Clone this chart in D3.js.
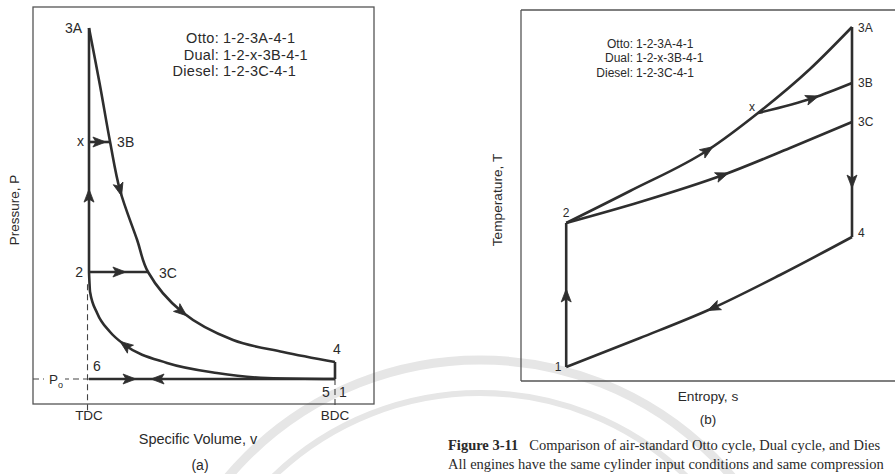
<!DOCTYPE html>
<html><head><meta charset="utf-8">
<script src="https://cdn.jsdelivr.net/npm/d3@7"></script>
<style>
body{margin:0;background:#fff}
svg{display:block}
text{font-family:"Liberation Sans",Arial,Helvetica,sans-serif;fill:#2a2a2a}
.cap{font-family:"Liberation Serif","Times New Roman",serif}
</style>
</head><body>
<svg id="c" width="895" height="474"></svg>
<script>
// ================= DATA =================
const cycleNames = ["Otto", "Dual", "Diesel"];
const cycleRoutes = ["1-2-3A-4-1", "1-2-x-3B-4-1", "1-2-3C-4-1"];

// ---- (a) P-v diagram: [specific volume v, pressure P] (TDC v=1, BDC v=8, P0 = 1) ----
const pvTicks = [{v: 1, label: "TDC"}, {v: 8, label: "BDC"}];
const pv2to3A = [[1, 5.28], [1, 15.04]];
const pvXto3B = [[1, 10.48], [1.60, 10.48]];
const pv2to3C = [[1, 5.28], [2.68, 5.28]];
const pvExpansion = [[1, 15.04], [1.31, 12.76], [1.60, 10.48], [1.88, 8.56], [2.37, 6.56],
                     [2.68, 5.28], [3.65, 3.68], [5.10, 2.56], [6.52, 2.08], [8, 1.68]];
const pv4to5 = [[8, 1.68], [8, 1]];
const pvExhaustIntake = [[1, 1], [8, 1]];
const pvCompression = [[1, 5.28], [1.03, 4.48], [1.23, 3.64], [1.60, 2.88], [2.02, 2.36],
                       [3.22, 1.64], [4.64, 1.24], [6.07, 1.04], [8, 1]];
const pvPoints = [
  {name: "3A", v: 1, P: 15.04}, {name: "x", v: 1, P: 10.48}, {name: "3B", v: 1.60, P: 10.48},
  {name: "2", v: 1, P: 5.28}, {name: "3C", v: 2.68, P: 5.28}, {name: "4", v: 8, P: 1.68},
  {name: "5", v: 8, P: 1}, {name: "1", v: 8, P: 1}, {name: "6", v: 1, P: 1}
];
const pvAmbient = 1; // P0

// ---- (b) T-s diagram: [entropy s, temperature T] ----
const ts1to2 = [[1.13, 1.4], [1.13, 15.8]];
const ts2to3A = [[1.13, 15.8], [2.725, 19.0], [4.675, 23.1], [5.925, 26.8], [7.225, 31.2], [8.275, 35.4]];
const tsXto3B = [[5.925, 26.8], [7.3, 28.3], [8.275, 29.8]];
const ts2to3C = [[1.13, 15.8], [2.975, 17.9], [5.05, 20.6], [6.725, 23.3], [8.275, 25.9]];
const ts3Ato4 = [[8.275, 35.4], [8.275, 14.4]];
const ts4to1 = [[1.13, 1.4], [2.975, 4.3], [4.8, 7.3], [6.475, 10.6], [8.275, 14.4]];
const tsPoints = [
  {name: "1", s: 1.13, T: 1.4}, {name: "2", s: 1.13, T: 15.8}, {name: "x", s: 5.925, T: 26.8},
  {name: "3A", s: 8.275, T: 35.4}, {name: "3B", s: 8.275, T: 29.8}, {name: "3C", s: 8.275, T: 25.9},
  {name: "4", s: 8.275, T: 14.4}
];

// caption as visible in the (cropped) reference
const captionLines = [
  ["Figure 3-11", "Comparison of air-standard Otto cycle, Dual cycle, and Dies"],
  ["", "All engines have the same cylinder input conditions and same compression"]
];

// ================= DRAW =================
const svg = d3.select("#c");
const INK = "#2e2e2e", FRAME = "#555";

// faint scanned watermark arcs (background)
const wm = svg.append("g").attr("fill", "none").attr("stroke", "#e6e6e6");
wm.append("circle").attr("cx", 480).attr("cy", 690).attr("r", 330).attr("stroke-width", 9);
wm.append("circle").attr("cx", 480).attr("cy", 690).attr("r", 297).attr("stroke-width", 6);

// ---------- (a) ----------
const xA = d3.scaleLinear().domain([-0.594, 9.11]).range([33, 374]);
const yA = d3.scaleLinear().domain([0, 15.88]).range([404, 7]);
const gA = svg.append("g");

gA.append("rect").attr("x", xA.range()[0]).attr("y", yA.range()[1])
  .attr("width", xA.range()[1] - xA.range()[0]).attr("height", yA.range()[0] - yA.range()[1])
  .attr("fill", "none").attr("stroke", FRAME).attr("stroke-width", 1.3);

const dashA = gA.append("g").attr("stroke", "#444").attr("stroke-width", 1.1).attr("stroke-dasharray", "6,4");
dashA.append("line").attr("x1", xA(1) - 1.5).attr("x2", xA(1) - 1.5).attr("y1", yA(-0.25)).attr("y2", yA(4.9));
dashA.append("line").attr("x1", xA(8)).attr("x2", xA(8)).attr("y1", yA(pvAmbient)).attr("y2", yA(-0.2));
dashA.append("line").attr("x1", xA.range()[0]).attr("x2", xA(1)).attr("y1", yA(pvAmbient)).attr("y2", yA(pvAmbient));
gA.append("rect").attr("x", 44).attr("y", yA(pvAmbient) - 8).attr("width", 21).attr("height", 16).attr("fill", "#fff");
const p0 = gA.append("text").attr("x", 49).attr("y", yA(pvAmbient) + 5).attr("font-size", 13.5);
p0.append("tspan").text("P");
p0.append("tspan").attr("dy", 4).attr("font-size", 9).text("o");

const lineA = d3.line().x(d => xA(d[0])).y(d => yA(d[1]));
const curveA = d3.line().x(d => xA(d[0])).y(d => yA(d[1])).curve(d3.curveCatmullRom.alpha(0.5));
const monoA = d3.line().x(d => xA(d[0])).y(d => yA(d[1])).curve(d3.curveMonotoneX);

function drawPath(g, gen, data) {
  return g.append("path").attr("d", gen(data)).attr("fill", "none")
    .attr("stroke", INK).attr("stroke-width", 2.6).attr("stroke-linejoin", "round").node();
}
const A = {
  up: drawPath(gA, lineA, pv2to3A),
  xb: drawPath(gA, lineA, pvXto3B),
  c3: drawPath(gA, lineA, pv2to3C),
  exp: drawPath(gA, curveA, pvExpansion),
  d45: drawPath(gA, lineA, pv4to5),
  ex: drawPath(gA, lineA, pvExhaustIntake),
  comp: drawPath(gA, monoA, pvCompression)
};

function arrow(g, node, target, axis, reverse) {
  const L = node.getTotalLength();
  let best = 0, bd = Infinity;
  for (let i = 0; i <= 600; i++) {
    const p = node.getPointAtLength(L * i / 600);
    const d = Math.abs((axis === "x" ? p.x : p.y) - target);
    if (d < bd) { bd = d; best = L * i / 600; }
  }
  const p = node.getPointAtLength(best);
  const a = node.getPointAtLength(Math.max(0, best - 2));
  const b = node.getPointAtLength(Math.min(L, best + 2));
  let ang = Math.atan2(b.y - a.y, b.x - a.x) * 180 / Math.PI;
  if (reverse) ang += 180;
  g.append("path").attr("d", "M6,0 L-7,-5 L-4,0 L-7,5 Z").attr("fill", INK)
    .attr("stroke", INK).attr("stroke-width", 0.8).attr("stroke-linejoin", "round")
    .attr("transform", `translate(${p.x},${p.y}) rotate(${ang})`);
}
arrow(gA, A.up, yA(8.36), "y", false);
arrow(gA, A.xb, xA(1.31), "x", false);
arrow(gA, A.c3, xA(1.88), "x", false);
arrow(gA, A.exp, xA(1.88), "x", false);
arrow(gA, A.exp, xA(3.65), "x", false);
arrow(gA, A.comp, xA(2.02), "x", true);
arrow(gA, A.ex, xA(2.17), "x", false);
arrow(gA, A.ex, xA(2.94), "x", true);

const offA = {"3A": [-7, 5, "end"], "x": [-5, 4, "end"], "3B": [7, 5, "start"], "2": [-6, 5, "end"],
  "3C": [11, 6, "start"], "4": [2, -8, "middle"], "5": [-9, 18, "middle"], "1": [8, 18, "middle"], "6": [4, -8, "start"]};
gA.selectAll("text.pt").data(pvPoints).join("text").attr("class", "pt")
  .attr("x", d => xA(d.v) + offA[d.name][0]).attr("y", d => yA(d.P) + offA[d.name][1])
  .attr("text-anchor", d => offA[d.name][2]).attr("font-size", 14).text(d => d.name);

gA.selectAll("text.tk").data(pvTicks).join("text").attr("class", "tk")
  .attr("x", d => xA(d.v)).attr("y", 420).attr("text-anchor", "middle").attr("font-size", 13.5).text(d => d.label);
gA.append("text").attr("x", 198).attr("y", 444).attr("text-anchor", "middle").attr("font-size", 14.5).text("Specific Volume, v");
gA.append("text").attr("x", 200).attr("y", 470).attr("text-anchor", "middle").attr("font-size", 14).text("(a)");
gA.append("text").attr("transform", "translate(19,210) rotate(-90)").attr("text-anchor", "middle")
  .attr("font-size", 13.5).text("Pressure, P");

const legA = gA.append("g").attr("font-size", 14.5).attr("letter-spacing", 0.3);
cycleNames.forEach((n, i) => {
  legA.append("text").attr("x", 219).attr("y", 43 + i * 16.5).attr("text-anchor", "end").text(n + ":");
  legA.append("text").attr("x", 223).attr("y", 43 + i * 16.5).text(cycleRoutes[i]);
});

// ---------- (b) ----------
const xB = d3.scaleLinear().domain([0, 9.35]).range([521, 895]);
const yB = d3.scaleLinear().domain([0, 37.1]).range([381, 10]);
const gB = svg.append("g");
const fr = gB.append("g").attr("stroke", FRAME).attr("stroke-width", 1.3);
fr.append("line").attr("x1", xB(0)).attr("x2", xB(0)).attr("y1", yB(0)).attr("y2", yB(37.1));
fr.append("line").attr("x1", xB(0)).attr("x2", xB(9.35)).attr("y1", yB(0)).attr("y2", yB(0));
fr.append("line").attr("x1", xB(0)).attr("x2", xB(9.35)).attr("y1", yB(37.1)).attr("y2", yB(37.1));

const lineB = d3.line().x(d => xB(d[0])).y(d => yB(d[1]));
const curveB = d3.line().x(d => xB(d[0])).y(d => yB(d[1])).curve(d3.curveMonotoneX);
const B = {
  v12: drawPath(gB, lineB, ts1to2),
  up: drawPath(gB, curveB, ts2to3A),
  xb: drawPath(gB, curveB, tsXto3B),
  c3: drawPath(gB, curveB, ts2to3C),
  v34: drawPath(gB, lineB, ts3Ato4),
  low: drawPath(gB, curveB, ts4to1)
};
arrow(gB, B.v12, yB(8.6), "y", false);
arrow(gB, B.up, xB(4.675), "x", false);
arrow(gB, B.xb, xB(7.3), "x", false);
arrow(gB, B.c3, xB(5.05), "x", false);
arrow(gB, B.v34, yB(19.9), "y", false);
arrow(gB, B.low, xB(4.8), "x", true);

const offB = {"1": [-8, 4, "middle"], "2": [0, -6, "middle"], "x": [-6, -2, "middle"], "3A": [6, 5, "start"],
  "3B": [6, 4, "start"], "3C": [6, 4, "start"], "4": [6, 0, "start"]};
gB.selectAll("text.pt").data(tsPoints).join("text").attr("class", "pt")
  .attr("x", d => xB(d.s) + offB[d.name][0]).attr("y", d => yB(d.T) + offB[d.name][1])
  .attr("text-anchor", d => offB[d.name][2]).attr("font-size", 12).text(d => d.name);

gB.append("text").attr("x", 708).attr("y", 401).attr("text-anchor", "middle").attr("font-size", 13.7).text("Entropy, s");
gB.append("text").attr("x", 708).attr("y", 424).attr("text-anchor", "middle").attr("font-size", 13.5).text("(b)");
gB.append("text").attr("transform", "translate(502,200) rotate(-90)").attr("text-anchor", "middle")
  .attr("font-size", 13.7).text("Temperature, T");

const legB = gB.append("g").attr("font-size", 12);
cycleNames.forEach((n, i) => {
  legB.append("text").attr("x", 633).attr("y", 47.5 + i * 14.5).attr("text-anchor", "end").text(n + ":");
  legB.append("text").attr("x", 636).attr("y", 47.5 + i * 14.5).text(cycleRoutes[i]);
});

captionLines.forEach((ln, i) => {
  const t = svg.append("text").attr("class", "cap").attr("x", 448).attr("y", 449.5 + i * 19.5).attr("font-size", 14.5);
  if (ln[0]) t.append("tspan").attr("font-weight", "bold").text(ln[0]);
  t.append("tspan").attr("dx", ln[0] ? 11 : 0).text(ln[1]);
});
</script>
</body></html>
